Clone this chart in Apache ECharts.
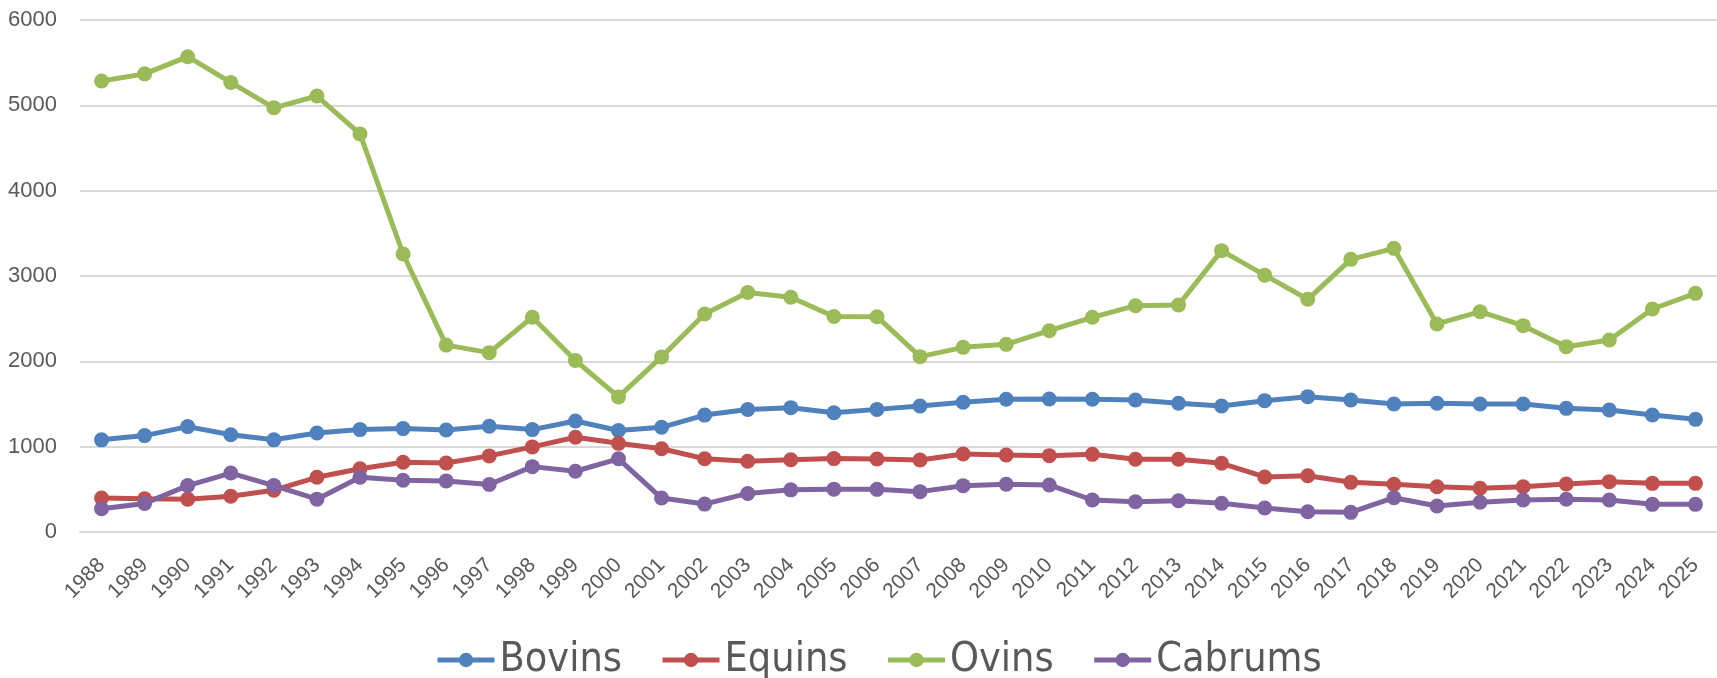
<!DOCTYPE html>
<html>
<head>
<meta charset="utf-8">
<script src="https://cdn.jsdelivr.net/npm/echarts@6/dist/echarts.min.js"></script>
<style>
  html, body { margin: 0; padding: 0; background: #fff; }
  #chart { width: 1717px; height: 678px; }
</style>
</head>
<body>
<div id="chart"></div>
<script>
const years = ["1988", "1989", "1990", "1991", "1992", "1993", "1994", "1995", "1996", "1997",
  "1998", "1999", "2000", "2001", "2002", "2003", "2004", "2005", "2006", "2007",
  "2008", "2009", "2010", "2011", "2012", "2013", "2014", "2015", "2016", "2017",
  "2018", "2019", "2020", "2021", "2022", "2023", "2024", "2025"];

const bovins = [1080, 1130, 1235, 1140, 1080, 1160, 1200, 1212, 1195, 1240,
  1200, 1300, 1190, 1227, 1370, 1435, 1457, 1398, 1437, 1477,
  1520, 1555, 1559, 1555, 1547, 1508, 1477, 1539, 1586, 1547,
  1500, 1508, 1500, 1500, 1449, 1430, 1371, 1320];

const equins = [398, 389, 385, 419, 490, 641, 741, 817, 808, 892,
  997, 1110, 1039, 976, 858, 829, 846, 860, 855, 844,
  914, 902, 895, 910, 852, 852, 805, 645, 660, 582,
  559, 531, 512, 531, 563, 590, 570, 570];

const ovins = [5285, 5369, 5570, 5268, 4971, 5109, 4665, 3258, 2190, 2102,
  2517, 2010, 1583, 2052, 2554, 2806, 2751, 2525, 2523, 2055,
  2164, 2199, 2359, 2516, 2652, 2660, 3297, 3010, 2727, 3195,
  3324, 2438, 2582, 2418, 2172, 2250, 2613, 2797];

const cabrums = [272, 335, 544, 691, 544, 385, 641, 607, 599, 557,
  766, 712, 858, 398, 327, 452, 494, 502, 500, 473,
  543, 559, 551, 375, 355, 367, 336, 281, 238, 230,
  402, 305, 348, 375, 383, 375, 324, 324];

const seriesNames = ["Bovins", "Equins", "Ovins", "Cabrums"];
const colors = ["#4F81BD", "#C0504D", "#9BBB59", "#8064A2"];

function makeLine(name, data, color) {
  return {
    name: name,
    type: "line",
    data: data,
    symbol: "circle",
    symbolSize: 15,
    showAllSymbol: true,
    lineStyle: { width: 5, color: color },
    itemStyle: { color: color },
    animation: false
  };
}

const chart = echarts.init(document.getElementById("chart"));
chart.setOption({
  backgroundColor: "#fff",
  color: colors,
  grid: { left: 80, right: 0, top: 20, bottom: 146 },
  legend: {
    data: seriesNames,
    top: 633,
    left: 430,
    itemWidth: 57,
    itemHeight: 18,
    itemGap: 38,
    lineStyle: { width: 5 },
    textStyle: {
      fontFamily: "'DejaVu Sans Condensed', 'Liberation Sans Narrow', sans-serif",
      fontSize: 41,
      lineHeight: 44,
      padding: [0, 0, 0, 0],
      color: "#595959"
    }
  },
  xAxis: {
    type: "category",
    data: years,
    boundaryGap: true,
    axisLine: { lineStyle: { color: "#D9D9D9", width: 2 } },
    axisTick: { show: false },
    axisLabel: {
      rotate: 45,
      interval: 0,
      margin: 30,
      fontFamily: "'Liberation Sans', sans-serif",
      fontSize: 21,
      color: "#595959"
    }
  },
  yAxis: {
    type: "value",
    min: 0,
    max: 6000,
    interval: 1000,
    axisLine: { show: false },
    axisTick: { show: false },
    splitLine: { lineStyle: { color: "#D9D9D9", width: 2 } },
    axisLabel: {
      margin: 23,
      formatter: function (v) { return String(v); },
      fontFamily: "'Liberation Sans', sans-serif",
      fontSize: 22,
      color: "#595959"
    }
  },
  series: [
    makeLine("Bovins", bovins, colors[0]),
    makeLine("Equins", equins, colors[1]),
    makeLine("Ovins", ovins, colors[2]),
    makeLine("Cabrums", cabrums, colors[3])
  ]
});
</script>
</body>
</html>
